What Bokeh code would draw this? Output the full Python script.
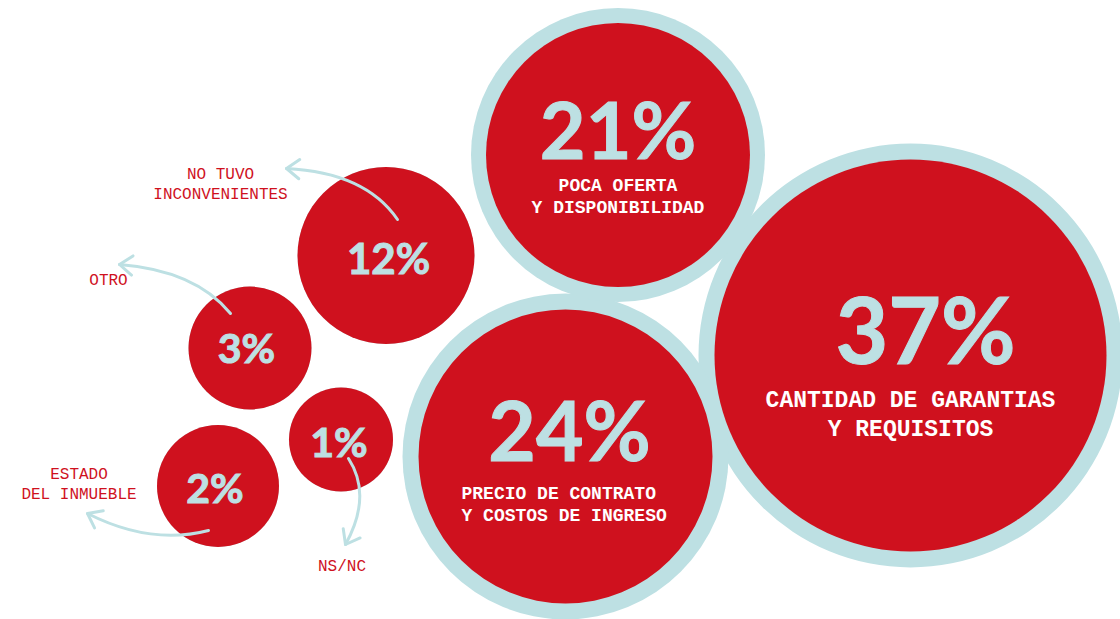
import numpy as np
from bokeh.plotting import figure
from bokeh.models import ColumnDataSource, Range1d
from bokeh.core.properties import value
from bokeh.embed import file_html
from bokeh.resources import INLINE

# --- data -------------------------------------------------------------
categories = [
    ["CANTIDAD DE GARANTIAS", "Y REQUISITOS"],
    ["PRECIO DE CONTRATO", "Y COSTOS DE INGRESO"],
    ["POCA OFERTA", "Y DISPONIBILIDAD"],
    ["NO TUVO", "INCONVENIENTES"],
    ["OTRO"],
    ["ESTADO", "DEL INMUEBLE"],
    ["NS/NC"],
]
shares = [37, 24, 21, 12, 3, 2, 1]

# --- layout (canvas units, y grows downward) ---------------------------
W, H = 1120, 619
RED = "#CF111E"
ICE = "#BDE0E3"
NUM_FONT, LABEL_FONT = "Lato", "Liberation Mono"
# distance from the drawn anchor to the glyph baseline, in em
BASE_SHIFT = {NUM_FONT: 0.385, LABEL_FONT: 0.33}

bubble_x = [910, 565, 617.5, 385.5, 249.5, 217.5, 340.5]
bubble_y = [355, 456, 154.5, 255, 347.5, 485.5, 439]
bubble_r = [196, 147, 132, 88.5, 61.5, 61, 52]
ring_w = [16, 16, 15, 0, 0, 0, 0]

pct_x = [925, 569, 617.5, 388, 246, 214.5, 338.5]
pct_base = [363, 460, 158, 274, 363, 503, 457]
pct_size = [91, 82, 79, 42, 41, 41, 41]

# label block: anchor x, first baseline, line step, font size, align, inside?
label_x = [910, 461, 617.5, 220, 108, 78.5, 341.5]
label_base = [408.3, 499.3, 191.7, 179.3, 286, 480, 571.7]
label_step = [28.4, 22.4, 21.6, 20, 0, 20, 0]
label_size = [23, 18, 18, 16, 16, 16, 16]
label_align = ["center", "left", "center", "center", "center", "center", "center"]
label_inside = [True, True, True, False, False, False, False]

# leader arrows for the small bubbles: start, control, tip
arrow_start = [(397, 219), (230, 313), (208, 530), (348, 458)]
arrow_ctrl = [(365, 172), (195, 270), (150, 545), (372, 495)]
arrow_tip = [(286, 168), (119, 264), (87, 513), (345, 544)]

p = figure(
    width=W, height=H,
    x_range=Range1d(0, W), y_range=Range1d(H, 0),
    output_backend="svg", toolbar_location=None,
    min_border=0, outline_line_color=None,
    background_fill_color="white", border_fill_color="white",
)
p.axis.visible = False
p.grid.visible = False

# outer rings then red discs
rings = ColumnDataSource(dict(
    x=bubble_x, y=bubble_y,
    r=[b + w for b, w in zip(bubble_r, ring_w)],
))
p.circle("x", "y", radius="r", source=rings, fill_color=ICE, line_color=None)
discs = ColumnDataSource(dict(x=bubble_x, y=bubble_y, r=bubble_r))
p.circle("x", "y", radius="r", source=discs, fill_color=RED, line_color=None)

# curved leaders with open arrowheads
head_len, head_ang = 16, np.radians(37)
hx, hy = [], []
for s, c, t in zip(arrow_start, arrow_ctrl, arrow_tip):
    p.quadratic(x0=[s[0]], y0=[s[1]], x1=[t[0]], y1=[t[1]], cx=[c[0]], cy=[c[1]],
                line_color=ICE, line_width=3, line_cap="round")
    back = np.arctan2(c[1] - t[1], c[0] - t[0])
    a1, a2 = back + head_ang, back - head_ang
    hx.append([t[0] + head_len * np.cos(a1), t[0], t[0] + head_len * np.cos(a2)])
    hy.append([t[1] + head_len * np.sin(a1), t[1], t[1] + head_len * np.sin(a2)])
p.multi_line(hx, hy, line_color=ICE, line_width=3, line_cap="round", line_join="round")

# percentage figures (outlined in their own colour for a heavier stroke)
pct = ColumnDataSource(dict(
    x=pct_x,
    y=[b - BASE_SHIFT[NUM_FONT] * s for b, s in zip(pct_base, pct_size)],
    text=[f"{v}%" for v in shares],
    size=[f"{s}px" for s in pct_size],
))
p.text("x", "y", text="text", source=pct, text_font=value(NUM_FONT),
       text_font_style="bold", text_font_size="size", text_color=ICE,
       text_outline_color=ICE,
       text_align="center", text_baseline="alphabetic")

# category labels, one text item per line
rows = dict(x=[], y=[], text=[], size=[], align=[], color=[], style=[])
for i, lines in enumerate(categories):
    for j, line in enumerate(lines):
        base = label_base[i] + j * label_step[i]
        rows["x"].append(label_x[i])
        rows["y"].append(base - BASE_SHIFT[LABEL_FONT] * label_size[i])
        rows["text"].append(line)
        rows["size"].append(f"{label_size[i]}px")
        rows["align"].append(label_align[i])
        rows["color"].append("white" if label_inside[i] else RED)
        rows["style"].append("bold" if label_inside[i] else "normal")
labels = ColumnDataSource(rows)
p.text("x", "y", text="text", source=labels, text_font=value(LABEL_FONT),
       text_font_size="size", text_align="align", text_color="color",
       text_font_style="style", text_baseline="alphabetic")

open("out.html", "w").write(file_html(p, INLINE))
